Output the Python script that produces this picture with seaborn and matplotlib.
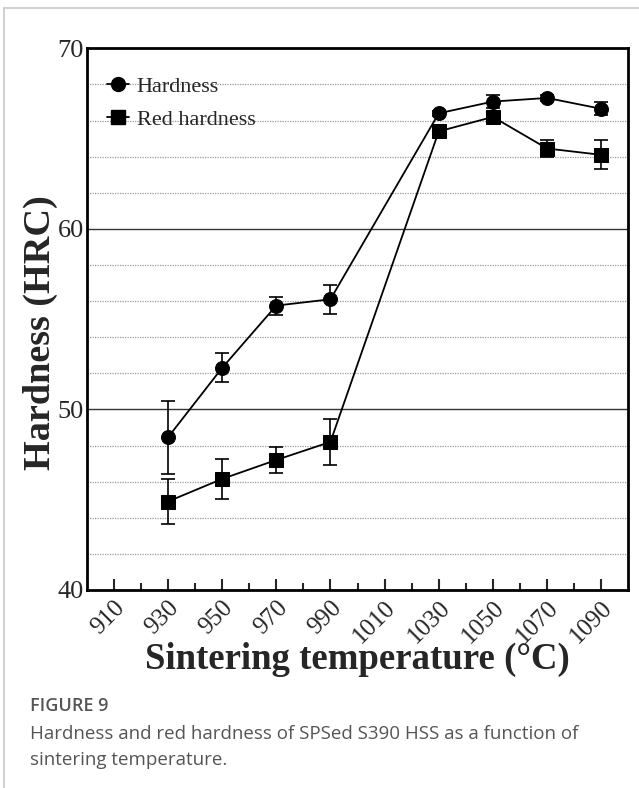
import numpy as np
import pandas as pd
import matplotlib
matplotlib.use("Agg")
import matplotlib.pyplot as plt
import seaborn as sns
from matplotlib.lines import Line2D
from matplotlib.ticker import FixedLocator

# ---- data ----
temps = [930, 950, 970, 990, 1030, 1050, 1070, 1090]
hardness = [48.45, 52.3, 55.75, 56.1, 66.4, 67.05, 67.25, 66.65]
hardness_err = [2.0, 0.8, 0.5, 0.8, 0.15, 0.35, 0.15, 0.35]
red_hardness = [44.9, 46.15, 47.2, 48.2, 65.4, 66.2, 64.45, 64.1]
red_hardness_err = [1.27, 1.1, 0.72, 1.27, 0.15, 0.15, 0.46, 0.8]
series_names = ["Hardness", "Red hardness"]
xticks = [910, 930, 950, 970, 990, 1010, 1030, 1050, 1070, 1090]
yticks = [40, 50, 60, 70]

df = pd.DataFrame({
    "T": temps * 2,
    "HRC": hardness + red_hardness,
    "err": hardness_err + red_hardness_err,
    "series": [series_names[0]] * len(temps) + [series_names[1]] * len(temps),
})

sns.set_style("white")
plt.rcParams["font.family"] = ["Liberation Serif", "DejaVu Serif"]

fig = plt.figure(figsize=(6.39, 7.88), dpi=100)
ax = fig.add_axes([0.1357, 0.2513, 0.8476, 0.6874])

# gridlines
for v in np.arange(42, 70, 2):
    if v % 10 == 0:
        ax.axhline(v, color="#333333", lw=1.0, zorder=0)
    else:
        ax.axhline(v, color="#9a9a9a", lw=0.9, ls=(0, (1, 1)), zorder=0)

# error bars
for name in series_names:
    sub = df[df.series == name]
    ax.errorbar(sub["T"], sub["HRC"], yerr=sub["err"], fmt="none",
                ecolor="black", elinewidth=1.2, capsize=5, capthick=1.2, zorder=2)

sns.lineplot(data=df, x="T", y="HRC", style="series", hue="series",
             palette=["black", "black"], markers=["o", "s"], dashes=False,
             markersize=10, markeredgecolor="black", linewidth=1.3,
             ax=ax, legend=False, zorder=3)

ax.set_xlim(900, 1100)
ax.set_ylim(40, 70)
ax.xaxis.set_major_locator(FixedLocator(xticks))
ax.xaxis.set_minor_locator(FixedLocator([920, 940, 960, 980, 1000, 1020, 1040, 1060, 1080]))
ax.yaxis.set_major_locator(FixedLocator(yticks))
ax.set_xticklabels([str(t) for t in xticks], rotation=45, ha="right",
                   rotation_mode="anchor", fontsize=18)
ax.set_yticklabels([str(t) for t in yticks], fontsize=19)
ax.tick_params(axis="x", which="major", direction="in", length=8, width=1.5,
               bottom=True, pad=5)
ax.tick_params(axis="x", which="minor", direction="in", length=5, width=1.5, bottom=True)
ax.tick_params(axis="y", which="major", length=0, pad=2)

for s in ax.spines.values():
    s.set_color("black")
    s.set_linewidth(2)

ax.set_xlabel("Sintering temperature (\u00b0C)", fontsize=26.5, fontweight="bold", labelpad=-4)
ax.set_ylabel("Hardness (HRC)", fontsize=27.5, fontweight="bold")
ax.yaxis.set_label_coords(-0.053, 0.476)

handles = [Line2D([], [], color="black", marker="o", markersize=10, lw=1.3),
           Line2D([], [], color="black", marker="s", markersize=10, lw=1.3)]
ax.legend(handles, series_names, loc="upper left", bbox_to_anchor=(0.0, 0.985),
          frameon=False, fontsize=16, handlelength=1.0, handletextpad=0.35,
          labelspacing=0.55)

# outer frame of the figure panel
fig.add_artist(Line2D([0.006, 0.006], [0, 0.99], transform=fig.transFigure,
                      color="#c8c8c8", lw=1.2))
fig.add_artist(Line2D([0.006, 1.0], [0.99, 0.99], transform=fig.transFigure,
                      color="#c8c8c8", lw=1.2))

# caption
cap_font = ["Open Sans", "DejaVu Sans"]
fig.text(0.047, 0.104, "FIGURE 9", fontsize=13, color="#555555",
         family=cap_font, fontweight="semibold", va="center")
fig.text(0.047, 0.069, "Hardness and red hardness of SPSed S390 HSS as a function of",
         fontsize=13.5, color="#555555", family=cap_font, va="center")
fig.text(0.047, 0.035, "sintering temperature.", fontsize=13.5, color="#555555",
         family=cap_font, va="center")

fig.savefig("out.png", dpi=100)
